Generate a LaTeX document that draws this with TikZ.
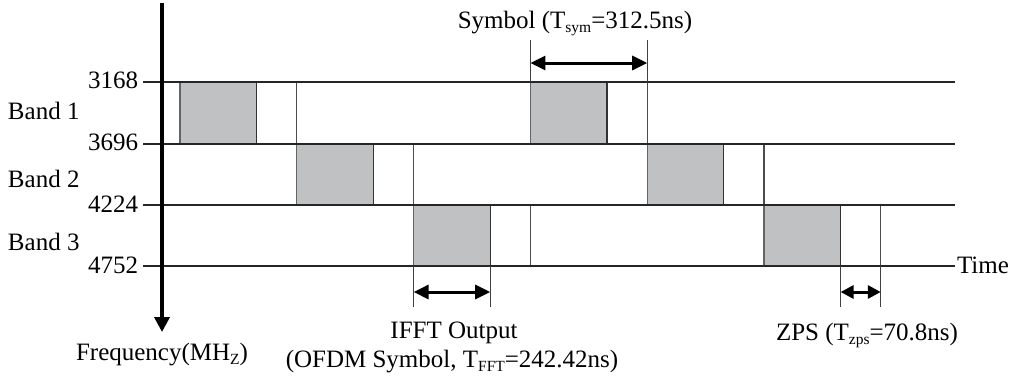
\documentclass[tikz,border=0pt]{standalone}
\usepackage{fontspec}
\setmainfont{Liberation Serif}
\usetikzlibrary{arrows.meta}

% small lowered index used inside the labels
\newcommand\idx[1]{\raisebox{-4.5pt}{\fontsize{15.5}{15.5}\selectfont #1}}

\definecolor{slotfill}{RGB}{192,193,195}
\definecolor{edgegray}{RGB}{100,100,100}

\tikzset{
  bandline/.style={line width=1.2pt, draw=black!85},
  sepline/.style={line width=1.2pt, draw=black!70},
  extline/.style={line width=1pt, draw=black!75},
  dimarrow/.style={line width=3pt, {Triangle[length=15pt,width=14pt]}-{Triangle[length=15pt,width=14pt]}},
  shortarrow/.style={line width=3pt, {Triangle[length=13pt,width=13pt]}-{Triangle[length=13pt,width=13pt]}},
  axisarrow/.style={line width=3.5pt, -{Triangle[length=15pt,width=15pt]}},
  lbl/.style={inner sep=0pt, outer sep=0pt}
}

\begin{document}
\begin{tikzpicture}[x=1pt, y=-1pt, font=\fontsize{25}{29}\selectfont]
\useasboundingbox (0,0) rectangle (1014,378);

% band edges (frequency levels)
\foreach \n/\y in {0/82, 1/144, 2/205, 3/266} {
  \coordinate (fL\n) at (143,\y);
  \coordinate (fR\n) at (955,\y);
}

% symbol slots: period 116.8, IFFT part 76.6, band hops 1-2-3-1-2-3
\foreach \k/\b in {0/0, 1/1, 2/2, 3/0, 4/1, 5/2} {
  \pgfmathsetmacro\xs{180+116.8*\k}
  \pgfmathsetmacro\xe{\xs+76.6}
  \pgfmathsetmacro\xz{\xs+116.8}
  \pgfmathtruncatemacro\bb{\b+1}
  \coordinate (s\k) at (\xs,0);
  \coordinate (e\k) at (\xe,0);
  \coordinate (z\k) at (\xz,0);
  \fill[slotfill] (s\k |- fL\b) rectangle (e\k |- fL\bb);
  \draw[line width=1.2pt, draw=edgegray] (s\k |- fL\b) -- (s\k |- fL\bb);
  \draw[line width=1.2pt, draw=black!80] (e\k |- fL\b) -- (e\k |- fL\bb);
  \draw[sepline] (z\k |- fL\b) -- (z\k |- fL\bb);
}

% horizontal band edges on top of the slots
\foreach \n in {0,1,2,3} \draw[bandline] (fL\n) -- (fR\n);

% frequency axis
\coordinate (axTop) at (162,3);
\coordinate (axTip) at (162,332);
\draw[axisarrow] (axTop) -- (axTip);

% symbol duration marker
\coordinate (symA) at (s3 |- 0,40);
\coordinate (symB) at (z3 |- 0,40);
\draw[extline] (symA) -- (s3 |- fL0);
\draw[extline] (symB) -- (z3 |- fL0);
\coordinate (symAm) at (s3 |- 0,63);
\coordinate (symBm) at (z3 |- 0,63);
\draw[dimarrow] (symAm) -- (symBm);

% IFFT output marker
\coordinate (ifA) at (s2 |- 0,307);
\coordinate (ifB) at (e2 |- 0,307);
\draw[extline] (s2 |- fL3) -- (ifA);
\draw[extline] (e2 |- fL3) -- (ifB);
\coordinate (ifAm) at (s2 |- 0,292);
\coordinate (ifBm) at (e2 |- 0,292);
\draw[dimarrow] (ifAm) -- (ifBm);

% zero-padded suffix marker
\coordinate (zpA) at (e5 |- 0,307);
\coordinate (zpB) at (z5 |- 0,307);
\draw[extline] (e5 |- fL3) -- (zpA);
\draw[extline] (z5 |- fL3) -- (zpB);
\coordinate (zpAm) at (e5 |- 0,292);
\coordinate (zpBm) at (z5 |- 0,292);
\draw[shortarrow] (zpAm) -- (zpBm);

% labels
\node[lbl, anchor=base east] (v0) at (138,88)  {3168};
\node[lbl, anchor=base east] (v1) at (138,150) {3696};
\node[lbl, anchor=base east] (v2) at (138,212) {4224};
\node[lbl, anchor=base east] (v3) at (138,273) {4752};
\node[lbl, anchor=base west] (b1) at (8,119) {Band 1};
\node[lbl, anchor=base west] (b2) at (8,187) {Band 2};
\node[lbl, anchor=base west] (b3) at (8,250) {Band 3};
\node[lbl, anchor=base west] (time) at (957,273) {Time};
\node[lbl, anchor=base] (freq) at (162,360) {Frequency(MH\idx{Z})};
\node[lbl, anchor=base] (symtxt) at (575,28) {Symbol (T\idx{sym}=312.5ns)};
\node[lbl, anchor=base] (ifft1) at (454,338) {IFFT Output};
\node[lbl, anchor=base] (ifft2) at (452,367) {(OFDM Symbol, T\idx{FFT}=242.42ns)};
\node[lbl, anchor=base] (zps) at (867,340) {ZPS (T\idx{zps}=70.8ns)};
\end{tikzpicture}
\end{document}
